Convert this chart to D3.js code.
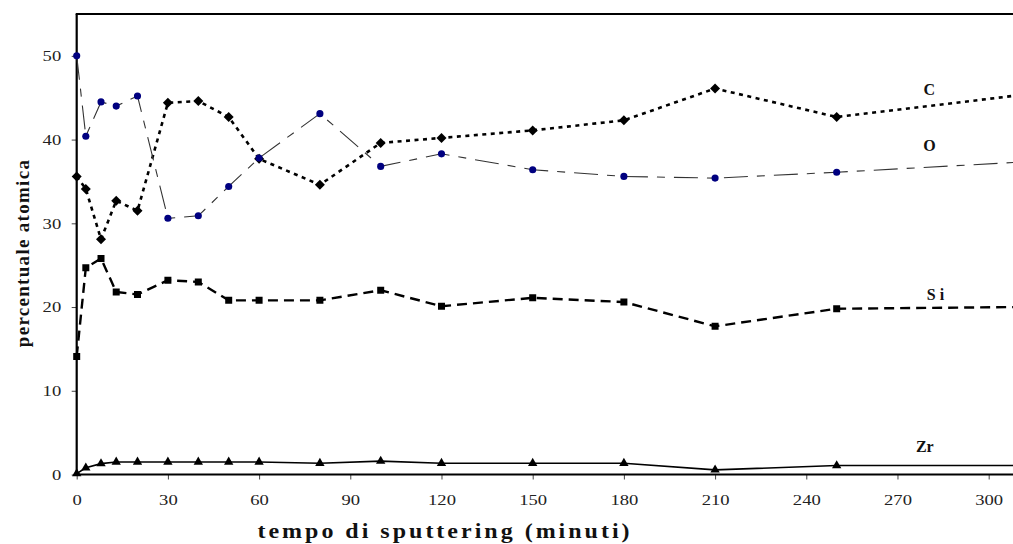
<!DOCTYPE html>
<html>
<head>
<meta charset="utf-8">
<script src="https://cdn.jsdelivr.net/npm/d3@7"></script>
<style>
  html, body { margin: 0; padding: 0; background: #fff; }
  svg { display: block; }
</style>
</head>
<body>
<svg id="chart" width="1013" height="544"></svg>
<script>
// ---- data ----
const times = [0, 3, 8, 13, 20, 30, 40, 50, 60, 80, 100, 120, 150, 180, 210, 250, 310];
const valuesC  = [35.6, 34.1, 28.1, 32.7, 31.5, 44.4, 44.6, 42.7, 37.7, 34.6, 39.6, 40.2, 41.1, 42.3, 46.1, 42.7, 45.3];
const valuesO  = [50.0, 40.4, 44.5, 44.0, 45.2, 30.6, 30.9, 34.4, 37.8, 43.1, 36.8, 38.3, 36.4, 35.6, 35.4, 36.1, 37.3];
const valuesSi = [14.1, 24.7, 25.8, 21.8, 21.5, 23.2, 23.0, 20.8, 20.8, 20.8, 22.0, 20.1, 21.1, 20.6, 17.7, 19.8, 20.0];
const valuesZr = [0.1, 0.8, 1.3, 1.5, 1.5, 1.5, 1.5, 1.5, 1.5, 1.35, 1.6, 1.35, 1.35, 1.35, 0.55, 1.07, 1.07];
const seriesNames = ["C", "O", "Si", "Zr"];
const seriesLabels = ["C", "O", "S i", "Zr"];
const xTicks = [0, 30, 60, 90, 120, 150, 180, 210, 240, 270, 300];
const yTicks = [0, 10, 20, 30, 40, 50];
const xTitle = "tempo di sputtering (minuti)";
const yTitle = "percentuale atomica";

(function () {
// ---- layout ----
const svg = d3.select("#chart");
const mLeft = 76.7, mTop = 14, mBottom = 474.5, mRight = 1013;
const x = d3.scaleLinear().domain([0, 308]).range([mLeft, mRight]);
const y = d3.scaleLinear().domain([0, 55]).range([mBottom, mTop]);

const serif = "'Liberation Serif', 'Times New Roman', serif";
const stretch = 1.24;

svg.append("defs").append("clipPath").attr("id", "clip")
  .append("rect").attr("x", mLeft - 10).attr("y", mTop - 10)
  .attr("width", mRight - mLeft + 10).attr("height", mBottom - mTop + 20);

// axes
const xAxis = svg.append("g").attr("transform", `translate(0,${mBottom})`)
  .call(d3.axisBottom(x).tickValues(xTicks).tickSize(5).tickFormat(d3.format("d")));
const yAxis = svg.append("g").attr("transform", `translate(${mLeft},0)`)
  .call(d3.axisLeft(y).tickValues(yTicks).tickSize(5).tickFormat(d3.format("d")));
[xAxis, yAxis].forEach(g => {
  g.select(".domain").remove();
  g.selectAll(".tick line").attr("stroke", "#444").attr("stroke-width", 1);
  g.selectAll(".tick text").attr("font-family", serif).attr("font-size", 15).attr("fill", "#222");
});
xAxis.selectAll(".tick text")
  .attr("y", 0).attr("dy", 0)
  .attr("transform", `translate(0,30.5) scale(${stretch},1)`);
yAxis.selectAll(".tick text")
  .attr("x", 0).attr("dy", "0.33em")
  .attr("transform", `translate(-15.5,0) scale(${stretch},1)`);

// frame lines (left, bottom, top)
svg.append("line").attr("x1", mLeft).attr("x2", mLeft).attr("y1", mTop).attr("y2", mBottom)
  .attr("stroke", "#000").attr("stroke-width", 2.2);
svg.append("line").attr("x1", mLeft).attr("x2", mRight).attr("y1", mBottom).attr("y2", mBottom)
  .attr("stroke", "#000").attr("stroke-width", 2.2);
svg.append("line").attr("x1", mLeft - 1).attr("x2", mRight).attr("y1", mTop).attr("y2", mTop)
  .attr("stroke", "#000").attr("stroke-width", 2.2);

// series
const dataSets = { C: valuesC, O: valuesO, Si: valuesSi, Zr: valuesZr };
const styles = {
  C:  { stroke: "#000", width: 2.6, dash: "4,4.5", marker: "diamond", fill: "#000", size: 50 },
  O:  { stroke: "#333", width: 1.1, dash: "24,9,8,9", marker: "circle", fill: "#000080", size: 40 },
  Si: { stroke: "#000", width: 2.4, dash: "10,6", marker: "square", fill: "#000", size: 49 },
  Zr: { stroke: "#000", width: 1.6, dash: null, marker: "triangle", fill: "#000", size: 38 }
};
const symbolType = { diamond: d3.symbolSquare, circle: d3.symbolCircle, square: d3.symbolSquare, triangle: d3.symbolTriangle };

const plot = svg.append("g").attr("clip-path", "url(#clip)");
seriesNames.forEach(name => {
  const vals = dataSets[name];
  const pts = times.map((t, i) => [t, vals[i]]);
  const st = styles[name];
  const line = d3.line().x(d => x(d[0])).y(d => y(d[1]));
  plot.append("path").datum(pts)
    .attr("d", line).attr("fill", "none")
    .attr("stroke", st.stroke).attr("stroke-width", st.width)
    .attr("stroke-dasharray", st.dash);
  const sym = d3.symbol().type(symbolType[st.marker]).size(st.size);
  plot.selectAll(null).data(pts.filter(d => d[0] <= 300)).enter().append("path")
    .attr("d", sym)
    .attr("transform", d => {
      const rot = st.marker === "diamond" ? " rotate(45)" : "";
      return `translate(${x(d[0])},${y(d[1])})${rot}`;
    })
    .attr("fill", st.fill);
});

// series labels
const labelPos = { C: 45.3, O: 38.6, Si: 20.8, Zr: 2.68 };
const labelX = { C: 280.5, O: 280.5, Si: 282.5, Zr: 279 };
seriesNames.forEach((name, i) => {
  svg.append("text")
    .attr("x", x(labelX[name])).attr("y", y(labelPos[name]))
    .attr("text-anchor", "middle")
    .attr("font-family", serif).attr("font-weight", "bold").attr("font-size", 16)
    .attr("fill", "#111")
    .text(seriesLabels[i]);
});

// axis titles
svg.append("text")
  .attr("transform", "translate(445,538) scale(1.2,1)")
  .attr("text-anchor", "middle")
  .attr("font-family", serif).attr("font-weight", "bold").attr("font-size", 20)
  .attr("letter-spacing", 2.5)
  .attr("fill", "#111")
  .text(xTitle);
svg.append("text")
  .attr("transform", "translate(29,253) rotate(-90)")
  .attr("text-anchor", "middle")
  .attr("font-family", serif).attr("font-weight", "bold").attr("font-size", 19)
  .attr("letter-spacing", 1.3)
  .attr("fill", "#111")
  .text(yTitle);
})();
</script>
</body>
</html>
